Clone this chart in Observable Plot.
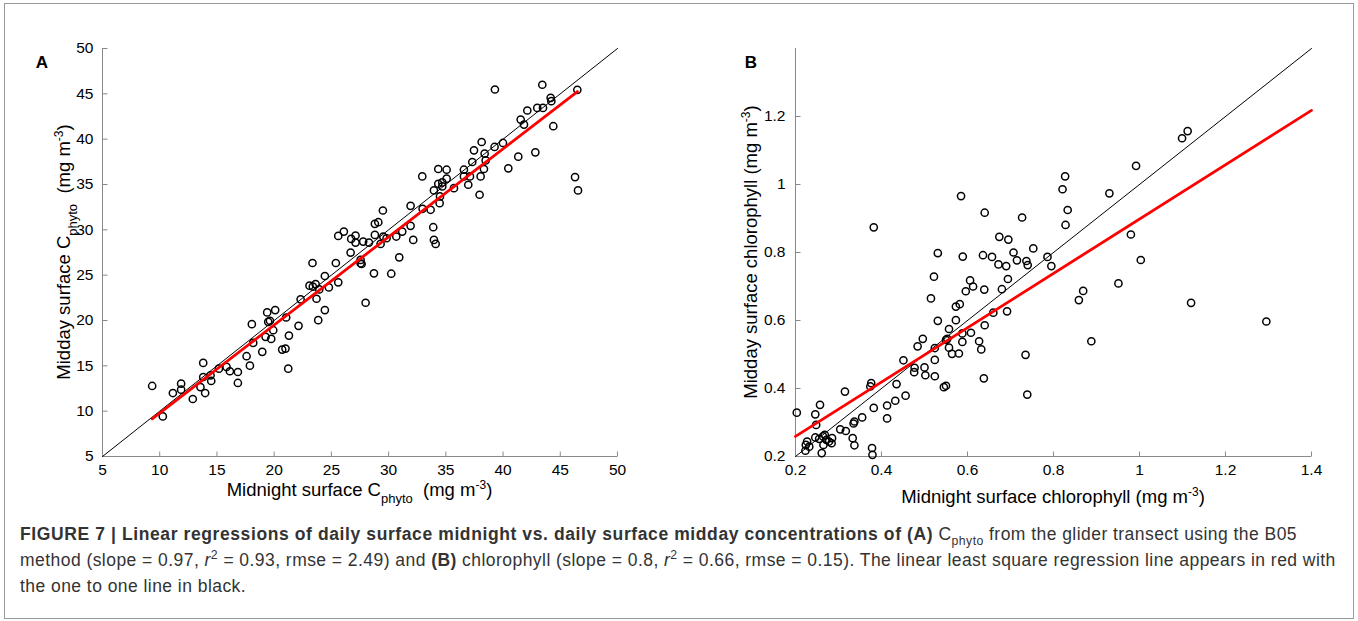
<!DOCTYPE html>
<html><head><meta charset="utf-8">
<script src="https://cdn.jsdelivr.net/npm/d3@7"></script>
<script src="https://cdn.jsdelivr.net/npm/@observablehq/plot@0.6"></script>
<style>
html,body{margin:0;padding:0;background:#fff;}
#fig{position:relative;width:1358px;height:621px;overflow:hidden;font-family:"Liberation Sans",Arial,sans-serif;}
#frame{position:absolute;left:4px;top:3px;width:1350px;height:616px;border:1px solid #9a9a9a;box-sizing:border-box;}
#panelA{position:absolute;left:0;top:0;}
#panelB{position:absolute;left:679px;top:0;}
#caption{position:absolute;left:20px;top:521px;font-size:17.5px;letter-spacing:0.45px;line-height:26px;color:#333;white-space:nowrap;}
#caption b.lead{letter-spacing:0.6px;}
#caption sub,#caption sup{font-size:70%;line-height:0;}
</style></head>
<body>
<div id="fig">
  <div id="frame"></div>
  <div id="panelA"></div>
  <div id="panelB"></div>
  <div id="caption"></div>
</div>
<script>
// ---------- Panel A data (C_phyto, mg m^-3) ----------
const ticksA = [5,10,15,20,25,30,35,40,45,50];
const midnightA = [9.34,10.27,11.15,11.87,11.87,12.89,13.56,13.80,13.97,13.80,14.44,14.50,15.17,15.84,16.13,16.83,16.83,17.88,21.23,17.59,18.17,18.96,20.70,20.99,18.05,19.25,19.74,19.39,19.48,19.63,19.92,20.09,21.05,21.29,22.13,23.85,24.43,22.31,23.09,23.38,23.62,23.70,23.94,24.43,24.78,25.60,27.99,28.72,30.23,23.35,25.39,26.68,27.55,27.55,27.64,30.93,25.60,26.09,26.73,27.11,27.11,27.78,28.28,28.80,29.30,29.53,29.82,28.80,29.10,29.50,30.67,31.19,31.92,32.15,33.90,33.96,34.11,31.92,32.97,33.67,32.94,33.96,34.34,34.34,34.49,34.46,34.69,34.69,35.07,35.07,35.71,36.58,36.58,36.96,37.11,37.31,37.46,38.04,37.95,38.13,38.33,38.39,38.48,39.26,39.99,40.46,41.33,42.82,39.29,41.54,41.83,42.12,42.99,43.43,43.49,44.16,44.22,44.39,46.49,46.29,46.55];
const middayA = [12.78,9.42,12.00,13.03,12.37,11.34,12.66,15.32,12.00,13.77,13.95,13.33,14.69,14.88,14.40,14.32,13.11,15.02,14.69,16.06,17.53,16.54,16.79,16.90,19.60,18.20,17.97,20.89,19.85,19.97,18.93,21.15,20.33,18.34,19.41,20.04,21.15,22.33,23.84,23.73,24.02,22.40,23.43,24.91,23.65,24.21,21.96,25.20,25.16,26.34,26.34,27.49,26.68,26.31,26.23,26.97,29.33,29.81,29.00,29.37,28.59,28.70,28.59,29.44,28.45,29.26,29.07,30.66,30.84,32.13,29.26,29.81,30.44,28.89,30.29,28.89,28.45,32.65,32.32,32.21,35.89,34.35,36.71,35.08,33.68,32.94,34.79,35.23,36.63,35.64,34.60,36.63,35.89,34.97,35.89,37.48,38.77,35.89,33.87,39.69,36.71,38.40,37.66,39.14,39.58,36.78,38.07,38.55,45.48,42.16,41.61,43.16,43.45,46.00,43.45,44.56,44.19,41.43,45.44,35.82,34.35];
const oneToOneA = [[5,5],[50,50]];
const regressionA = [[9.34,9.16],[46.5,45.25]];

// ---------- Panel B data (chlorophyll, mg m^-3) ----------
const xTicksB = [0.2,0.4,0.6,0.8,1,1.2,1.4];
const yTicksB = [0.2,0.4,0.6,0.8,1,1.2];
const midnightB = [1.099,1.112,0.992,0.827,0.821,0.930,0.585,0.640,0.833,0.727,0.382,0.828,0.980,0.674,0.695,0.753,0.531,0.589,0.636,0.657,0.707,0.786,0.715,0.737,0.672,0.690,0.740,0.795,1.003,0.522,0.606,0.613,0.694,0.596,0.639,0.680,0.951,0.869,0.859,0.515,0.573,0.582,1.120,0.660,0.692,0.531,0.573,1.295,0.557,0.640,0.608,0.588,0.496,0.553,0.550,0.627,0.588,0.888,0.484,0.524,0.557,0.632,0.564,0.580,0.735,0.451,0.524,0.477,0.500,0.476,0.502,0.524,0.638,0.376,0.374,0.435,0.550,0.545,0.315,0.739,0.456,0.432,0.413,0.382,0.257,0.203,0.246,0.355,0.413,0.337,0.335,0.248,0.304,0.317,0.285,0.333,0.246,0.255,0.264,0.268,0.272,0.278,0.227,0.284,0.224,0.232,0.265,0.337,0.223,0.378,0.261,0.379];
const middayB = [1.136,1.157,1.055,1.024,0.986,0.974,0.966,0.917,0.925,0.903,0.874,0.881,0.853,0.846,0.838,0.812,0.798,0.788,0.792,0.787,0.800,0.787,0.777,0.775,0.765,0.760,0.763,0.760,0.778,0.729,0.718,0.700,0.722,0.686,0.691,0.692,0.709,0.687,0.660,0.665,0.641,0.648,0.652,0.623,0.627,0.599,0.601,0.597,0.575,0.586,0.564,0.562,0.546,0.546,0.543,0.539,0.537,0.539,0.524,0.519,0.520,0.515,0.502,0.503,0.499,0.483,0.484,0.461,0.462,0.448,0.439,0.436,0.430,0.416,0.406,0.413,0.408,0.404,0.391,0.382,0.379,0.364,0.350,0.343,0.352,0.329,0.324,0.315,0.312,0.303,0.297,0.293,0.280,0.275,0.254,0.254,0.256,0.252,0.259,0.264,0.249,0.244,0.244,0.239,0.234,0.229,0.234,0.233,0.217,0.225,0.210,0.205];
const oneToOneB = [[0.2,0.2],[1.4,1.4]];
const regressionB = [[0.2,0.259],[1.4,1.218]];

const FONT = '"Liberation Sans", Arial, sans-serif';
const axisGray = "#8a8a8a";
const LABEL_SIZE = 18.5;
const upTick = {draw(c){ c.moveTo(0,0); c.lineTo(0,-5); }};
const rightTick = {draw(c){ c.moveTo(0,0); c.lineTo(5,0); }};

function panel(cfg){
  const pts = cfg.xs.map((x,i)=>({x, y: cfg.ys[i]}));
  const chart = Plot.plot({
    width: 679, height: 510,
    marginLeft: cfg.ml, marginRight: cfg.mr, marginTop: 48, marginBottom: 54,
    style: {fontFamily: FONT, fontSize: "15.5px", color: "#000", background: "transparent", overflow: "visible"},
    x: {domain: cfg.xDom},
    y: {domain: cfg.yDom},
    marks: [
      Plot.ruleY([cfg.yDom[0]], {stroke: axisGray, strokeWidth: 1}),
      Plot.ruleX([cfg.xDom[0]], {stroke: axisGray, strokeWidth: 1}),
      Plot.dot(cfg.xTicks, {x: d=>d, y: ()=>cfg.yDom[0], symbol: upTick, stroke: axisGray, fill: "none", strokeWidth: 1}),
      Plot.dot(cfg.yTicks, {x: ()=>cfg.xDom[0], y: d=>d, symbol: rightTick, stroke: axisGray, fill: "none", strokeWidth: 1}),
      Plot.axisX(cfg.xTicks, {tickSize: 0, tickPadding: 7, tickFormat: d=>String(d), label: null, fill: "#000"}),
      Plot.axisY(cfg.yTicks, {tickSize: 0, tickPadding: cfg.yPad, tickFormat: d=>String(d), label: null, fill: "#000"}),
      Plot.line(cfg.one, {stroke: "#000", strokeWidth: 1}),
      Plot.dot(pts, {x: "x", y: "y", r: 3.6, stroke: "#000", strokeWidth: 1.5, fill: "none"}),
      Plot.line(cfg.reg, {stroke: "#ff0000", strokeWidth: 2.8})
    ]
  });
  const svg = d3.select(chart);
  const sx = chart.scale("x"), sy = chart.scale("y");
  const cx = (sx.apply(cfg.xDom[0]) + sx.apply(cfg.xDom[1]))/2;
  const cy = (sy.apply(cfg.yDom[0]) + sy.apply(cfg.yDom[1]))/2;
  svg.append("text").attr("x", cfg.letterX).attr("y", 68)
    .attr("font-family", FONT).attr("font-weight", "bold").attr("font-size", 17).attr("fill", "#000").text(cfg.letter);
  const xl = svg.append("text").attr("x", cx).attr("y", cfg.xLabelY).attr("text-anchor", "middle")
    .attr("font-family", FONT).attr("font-size", LABEL_SIZE).attr("fill", "#000");
  cfg.xLabel(xl);
  const yl = svg.append("text").attr("transform", `translate(${cfg.yLabelX},${cy}) rotate(-90)`).attr("text-anchor", "middle")
    .attr("font-family", FONT).attr("font-size", LABEL_SIZE).attr("fill", "#000");
  cfg.yLabel(yl);
  return chart;
}
function sub(t, s){
  t.append("tspan").attr("font-size", 13).attr("dy", 7).text(s);
  t.append("tspan").attr("dy", -7).text(" ");
}
function unitsTail(t){
  t.append("tspan").text(" (mg m");
  t.append("tspan").attr("font-size", 12).attr("dy", -7).text("-3");
  t.append("tspan").attr("dy", 7).text(")");
}

const chartA = panel({
  xs: midnightA, ys: middayA, xDom: [5,50], yDom: [5,50], xTicks: ticksA, yTicks: ticksA,
  one: oneToOneA, reg: regressionA, ml: 102, mr: 62, yPad: 9,
  letter: "A", letterX: 42, xLabelY: 496, yLabelX: 70,
  xLabel: t => { t.append("tspan").text("Midnight surface C"); sub(t, "phyto"); unitsTail(t); },
  yLabel: t => { t.append("tspan").text("Midday surface C"); sub(t, "phyto"); unitsTail(t); }
});
const chartB = panel({
  xs: midnightB, ys: middayB, xDom: [0.2,1.4], yDom: [0.2,1.4], xTicks: xTicksB, yTicks: yTicksB,
  one: oneToOneB, reg: regressionB, ml: 116, mr: 47, yPad: 10,
  letter: "B", letterX: 72, xLabelY: 503, yLabelX: 78,
  xLabel: t => { t.append("tspan").text("Midnight surface chlorophyll"); unitsTail(t); },
  yLabel: t => { t.append("tspan").text("Midday surface chlorophyll"); unitsTail(t); }
});
document.getElementById("panelA").appendChild(chartA);
document.getElementById("panelB").appendChild(chartB);

document.getElementById("caption").innerHTML =
  '<b class="lead">FIGURE 7 | Linear regressions of daily surface midnight vs. daily surface midday concentrations of (A)</b> C<sub>phyto</sub> from the glider transect using the B05<br>' +
  'method (slope = 0.97, <i>r</i><sup>2</sup> = 0.93, rmse = 2.49) and <b>(B)</b> chlorophyll (slope = 0.8, <i>r</i><sup>2</sup> = 0.66, rmse = 0.15). The linear least square regression line appears in red with<br>' +
  'the one to one line in black.';
</script>
</body></html>
